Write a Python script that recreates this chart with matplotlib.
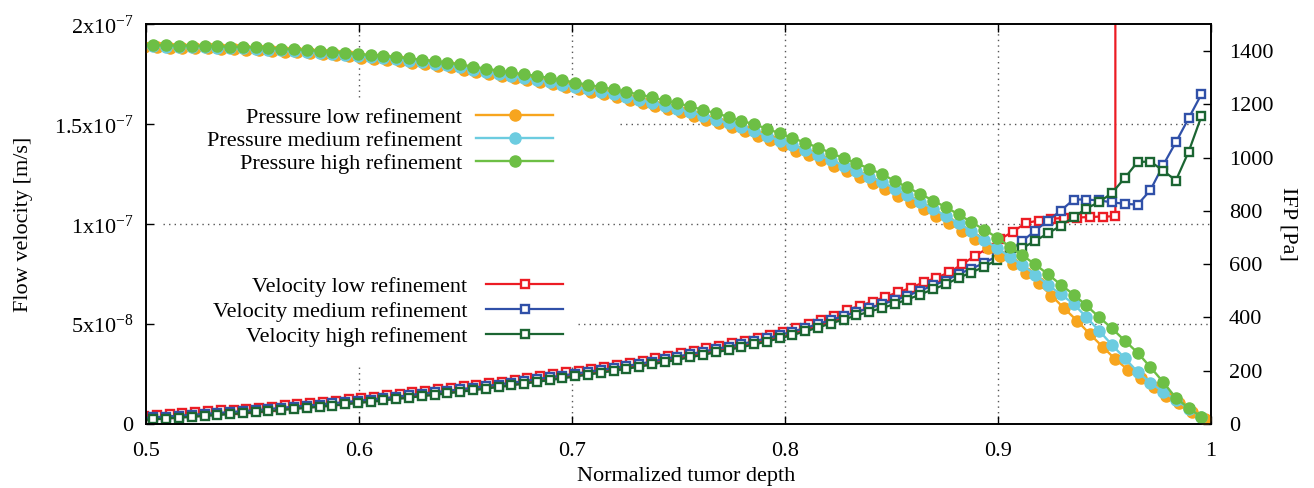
import numpy as np
import matplotlib
matplotlib.use("Agg")
import matplotlib.pyplot as plt

plt.rcParams['font.family'] = ['Liberation Serif', 'DejaVu Serif']
plt.rcParams['mathtext.fontset'] = 'custom'
plt.rcParams['mathtext.rm'] = 'Liberation Serif'
plt.rcParams['mathtext.it'] = 'Liberation Serif:italic'
plt.rcParams['mathtext.bf'] = 'Liberation Serif:bold'
plt.rcParams['font.size'] = 16

# ---------------- data ----------------
# normalized depth of the mesh nodes (medium/high refinement) and low refinement
depth = np.round(0.4975 + 0.006 * np.arange(84), 4)
depth_low = np.round(0.4991 + 0.006 * np.arange(84), 4)

# IFP [Pa]
p_low = [1415, 1414, 1413, 1412, 1411, 1410, 1408, 1407, 1405, 1403, 1401,
         1398, 1395, 1392, 1388, 1384, 1380, 1375, 1371, 1367, 1363,
         1357, 1351, 1346, 1340, 1331, 1323, 1313, 1305, 1298, 1290,
         1283, 1275, 1266, 1256, 1247, 1238, 1228, 1217, 1206, 1195,
         1183, 1170, 1158, 1143, 1129, 1114, 1099, 1083, 1065, 1048,
         1026, 1010, 991, 970, 950, 929, 906, 882, 856, 832,
         806, 781, 754, 725, 695, 660, 630, 600, 567, 528,
         482, 434, 388, 338, 290, 243, 203, 172, 140, 106,
         78, 46, 18]
p_med = [1419, 1418, 1416, 1416, 1415, 1414, 1413, 1412, 1410, 1408, 1406,
         1403, 1401, 1398, 1394, 1390, 1386, 1381, 1377, 1373, 1369,
         1364, 1358, 1353, 1347, 1339, 1330, 1322, 1313, 1306, 1299,
         1292, 1283, 1274, 1265, 1257, 1248, 1238, 1228, 1217, 1206,
         1195, 1183, 1171, 1157, 1143, 1129, 1114, 1099, 1081, 1064,
         1048, 1029, 1011, 991, 970, 951, 929, 909, 884, 859,
         834, 808, 781, 753, 724, 691, 660, 628, 596, 561,
         522, 487, 451, 401, 350, 297, 247, 196, 155, 121,
         90, 58, 25]
p_high = [1424, 1423, 1422, 1421, 1421, 1419, 1418, 1417, 1416, 1414, 1412,
          1409, 1407, 1404, 1401, 1397, 1394, 1389, 1386, 1382, 1378,
          1373, 1368, 1363, 1357, 1350, 1342, 1334, 1327, 1320, 1313,
          1307, 1299, 1291, 1282, 1274, 1265, 1257, 1247, 1237, 1227,
          1215, 1204, 1193, 1179, 1167, 1153, 1139, 1125, 1109, 1091,
          1074, 1056, 1038, 1018, 998, 979, 959, 938, 913, 888,
          864, 839, 814, 787, 758, 730, 700, 666, 633, 599,
          562, 523, 486, 445, 401, 359, 313, 268, 214, 158,
          98, 60, 26]

# Flow velocity [1e-8 m/s]
v_low = [0.42, 0.46, 0.50, 0.545, 0.585, 0.63, 0.676, 0.721, 0.771, 0.821, 0.871,
         0.951, 1.006, 1.061, 1.116, 1.176, 1.236, 1.301, 1.366, 1.431, 1.502,
         1.597, 1.667, 1.737, 1.812, 1.887, 1.967, 2.047, 2.127, 2.212, 2.297,
         2.408, 2.498, 2.588, 2.678, 2.773, 2.868, 2.963, 3.063, 3.168, 3.284,
         3.429, 3.544, 3.664, 3.789, 3.914, 4.039, 4.17, 4.305, 4.455, 4.615,
         4.83, 5.006, 5.206, 5.406, 5.707, 5.922, 6.122, 6.373, 6.593, 6.823,
         7.094, 7.324, 7.594, 7.995, 8.41, 8.796, 9.261, 9.637, 10.062, 10.187,
         10.277, 10.312, 10.337, 10.362, 10.387, 10.397,
         80.0]   # last node blows up (off the chart)
v_med = [0.30, 0.335, 0.375, 0.42, 0.46, 0.505, 0.551, 0.596, 0.646, 0.696, 0.746,
         0.811, 0.866, 0.921, 0.976, 1.036, 1.096, 1.161, 1.226, 1.291, 1.362,
         1.447, 1.517, 1.587, 1.662, 1.737, 1.817, 1.897, 1.977, 2.062, 2.147,
         2.248, 2.338, 2.428, 2.518, 2.613, 2.708, 2.803, 2.903, 3.008, 3.124,
         3.264, 3.379, 3.499, 3.624, 3.749, 3.874, 4.005, 4.14, 4.29, 4.45,
         4.63, 4.806, 5.006, 5.206, 5.406, 5.607, 5.797, 5.997, 6.197, 6.422,
         6.673, 6.938, 7.183, 7.509, 7.774, 8.064, 8.40, 8.665, 9.161, 9.682,
         10.182, 10.683, 11.238, 11.238, 11.193, 11.098, 11.023, 10.983, 11.699, 12.95,
         14.107, 15.303, 16.51]
v_high = [0.20, 0.235, 0.275, 0.32, 0.36, 0.405, 0.451, 0.496, 0.546, 0.596, 0.646,
          0.701, 0.756, 0.811, 0.866, 0.926, 0.986, 1.051, 1.116, 1.181, 1.252,
          1.322, 1.392, 1.462, 1.537, 1.612, 1.692, 1.772, 1.852, 1.937, 2.022,
          2.108, 2.198, 2.288, 2.378, 2.473, 2.568, 2.663, 2.763, 2.868, 2.984,
          3.104, 3.219, 3.339, 3.464, 3.589, 3.714, 3.845, 3.98, 4.13, 4.29,
          4.455, 4.631, 4.831, 5.031, 5.231, 5.432, 5.622, 5.807, 6.007, 6.232,
          6.483, 6.748, 6.993, 7.319, 7.584, 7.874, 8.21, 8.475, 8.811, 9.176,
          9.546, 9.927, 10.362, 10.788, 11.113, 11.564, 12.315, 13.116, 13.141, 12.69,
          12.19, 13.631, 15.403]

x_ticks = [0.5, 0.6, 0.7, 0.8, 0.9, 1.0]
x_ticklabels = ["0.5", "0.6", "0.7", "0.8", "0.9", "1"]
v_ticks = [0, 5e-8, 1e-7, 1.5e-7, 2e-7]
v_ticklabels = ["0", "5x10$^{-8}$", "1x10$^{-7}$", "1.5x10$^{-7}$", "2x10$^{-7}$"]
p_ticks = [0, 200, 400, 600, 800, 1000, 1200, 1400]

labels_p = ["Pressure low refinement", "Pressure medium refinement", "Pressure high refinement"]
labels_v = ["Velocity low refinement", "Velocity medium refinement", "Velocity high refinement"]

c_p = ["#F7A51E", "#6CCCE0", "#6DBF45"]
c_v = ["#EC1C24", "#3050A8", "#1B6532"]

# ---------------- figure ----------------
W, H = 1314, 488
fig = plt.figure(figsize=(W / 100, H / 100), dpi=100)
L, R, T, B = 146, 1211, 24.5, 424
ax = fig.add_axes([L / W, 1 - B / H, (R - L) / W, (B - T) / H])
ax2 = ax.twinx()

# grid (partly hidden behind the opaque key)
gkw = dict(color="#555555", lw=1.0, ls=(0, (1, 3)), zorder=0.5)
axh = B - T
for xv in (0.6, 0.7):
    ax.axvline(xv, ymin=(B - 97) / axh, ymax=1, **gkw)
    ax.axvline(xv, ymin=0, ymax=(B - 365) / axh, **gkw)
for xv in (0.8, 0.9):
    ax.axvline(xv, **gkw)
ax.axhline(1.5e-7, xmin=(620 - L) / (R - L), xmax=1, **gkw)
ax.axhline(1.0e-7, xmin=(163 - L) / (R - L), xmax=1, **gkw)
ax.axhline(5e-8, xmin=(578 - L) / (R - L), xmax=1, **gkw)

# velocity (left axis)
red_x = np.append(depth_low[:len(v_low) - 1], depth_low[len(v_low) - 2])
vel_x = [red_x, depth, depth]
hv = []
for xs, vs, c, lab in zip(vel_x, [v_low, v_med, v_high], c_v, labels_v):
    vs = np.array(vs) * 1e-8
    h, = ax.plot(xs, vs, color=c, lw=1.6, marker="s", ms=5.6, mfc="white",
                 mec=c, mew=1.7, label=lab, zorder=2)
    hv.append(h)

# pressure (right axis)
hp = []
for xs, ps, c, lab in zip([depth_low, depth, depth], [p_low, p_med, p_high], c_p, labels_p):
    h, = ax2.plot(xs, ps, color=c, lw=1.7, marker="o", ms=8.0, mfc=c, mec=c,
                  label=lab, zorder=2)
    hp.append(h)

ax.set_xlim(0.5, 1.0)
ax.set_ylim(0, 2e-7)
ax2.set_ylim(0, 1500)

ax.set_xticks(x_ticks)
ax.set_xticklabels(x_ticklabels)
ax.set_yticks(v_ticks)
ax.set_yticklabels(v_ticklabels)
ax2.set_yticks(p_ticks)

ax.tick_params(axis="x", direction="in", length=6, width=1, top=True, pad=13)
ax.tick_params(axis="y", direction="in", length=6, width=1, right=False, pad=9)
ax2.tick_params(axis="y", direction="in", length=6, width=1, pad=13)

for a in (ax, ax2):
    for s in a.spines.values():
        s.set_linewidth(1.2)

ax.set_xlabel("Normalized tumor depth")
ax.xaxis.set_label_coords(0.507, (B - 467) / axh)
ax.set_ylabel("Flow velocity [m/s]")
ax.yaxis.set_label_coords((33 - L) / (R - L), 0.5)
ax2.set_ylabel("IFP [Pa]", rotation=270, va="bottom")
ax2.yaxis.set_label_coords((1278 - L) / (R - L), 0.5)

lkw = dict(loc="upper right", frameon=False, markerfirst=False, numpoints=1,
           borderpad=0, borderaxespad=0, fontsize=16,
           bbox_transform=fig.transFigure)
leg1 = ax2.legend(handles=hp, bbox_to_anchor=(553 / W, 1 - 107 / H),
                  handlelength=3.45, handletextpad=0.65, labelspacing=0.12, **lkw)
ax2.add_artist(leg1)
leg2 = ax2.legend(handles=hv, bbox_to_anchor=(563 / W, 1 - 276 / H),
                  handlelength=3.45, handletextpad=0.85, labelspacing=0.2, **lkw)
for t in leg1.get_texts() + leg2.get_texts():
    t.set_ha("right")

fig.savefig("out.png", dpi=100)
